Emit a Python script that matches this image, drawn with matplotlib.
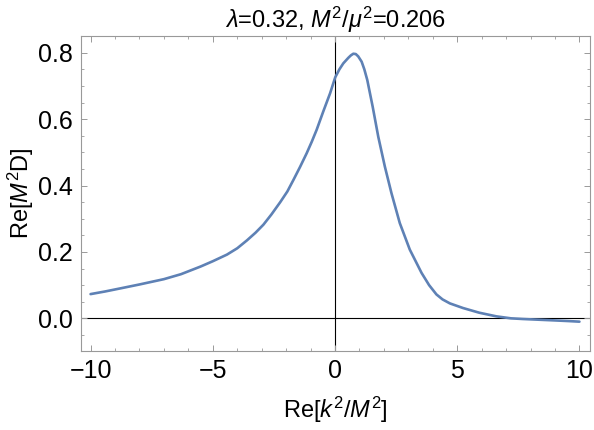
import matplotlib
matplotlib.use('Agg')
import matplotlib.pyplot as plt
from matplotlib.ticker import MultipleLocator, FormatStrFormatter

plt.rcParams['font.family'] = 'Liberation Sans'
plt.rcParams['mathtext.fontset'] = 'custom'
plt.rcParams['mathtext.rm'] = 'Liberation Sans'
plt.rcParams['mathtext.it'] = 'Liberation Sans:italic'

# values
k2 = [-10, -9.4, -8.73, -8.0, -7.0, -6.3, -5.5, -5.0, -4.42, -4.0, -3.6,
      -3.25, -2.93, -2.6, -2.24, -1.95, -1.7, -1.43, -1.16, -0.95, -0.75,
      -0.48, -0.2, 0.01, 0.18, 0.34, 0.55, 0.65, 0.75, 0.85, 0.95, 1.09,
      1.2, 1.32, 1.54, 1.77, 2.04, 2.31, 2.65, 3.06, 3.54, 3.85, 4.15, 4.4,
      4.7, 5.24, 5.9, 6.6, 7.2, 7.69, 8.3, 8.91, 9.5, 10]
reD = [0.073, 0.081, 0.091, 0.102, 0.118, 0.133, 0.156, 0.172, 0.192, 0.211,
       0.235, 0.258, 0.282, 0.313, 0.35, 0.382, 0.417, 0.456, 0.497, 0.532,
       0.568, 0.623, 0.678, 0.726, 0.75, 0.768, 0.785, 0.792, 0.797, 0.796,
       0.789, 0.773, 0.75, 0.718, 0.638, 0.547, 0.457, 0.377, 0.287, 0.207,
       0.137, 0.100, 0.072, 0.057, 0.045, 0.031, 0.017, 0.006, 0.0, -0.002,
       -0.004, -0.006, -0.008, -0.010]

fig = plt.figure(figsize=(5.94, 4.30), dpi=100)
ax = fig.add_axes([0.136, 0.184, 0.858, 0.732])

ax.axhline(0, color='black', lw=0.8, zorder=1)
ax.axvline(0, color='black', lw=0.8, zorder=1)
ax.plot(k2, reD, color='#5E81B5', lw=1.9, zorder=2,
        solid_joinstyle='round', solid_capstyle='round')

ax.set_xlim(-10.4, 10.45)
ax.set_ylim(-0.098, 0.85)
ax.xaxis.set_major_locator(MultipleLocator(5))
ax.xaxis.set_minor_locator(MultipleLocator(1))
ax.yaxis.set_major_locator(MultipleLocator(0.2))
ax.yaxis.set_minor_locator(MultipleLocator(0.05))
ax.yaxis.set_major_formatter(FormatStrFormatter('%.1f'))

ax.tick_params(which='both', direction='in', top=True, right=True,
               color='#999999', labelsize=18, pad=6)
ax.tick_params(which='major', length=4.5, width=0.7)
ax.tick_params(which='minor', length=2.5, width=0.6)
for s in ax.spines.values():
    s.set_color('#999999')
    s.set_linewidth(0.8)

ax.set_xlabel(r'Re[$k^2/M^2$]', fontsize=17, labelpad=8)
ax.set_ylabel(r'Re[$M^2$D]', fontsize=17)
ax.yaxis.set_label_coords(-0.088, 0.5)
ax.set_title(r'$\lambda$=0.32, $M^2/\mu^2$=0.206', fontsize=17, pad=6)

fig.savefig('out.png', dpi=100)
